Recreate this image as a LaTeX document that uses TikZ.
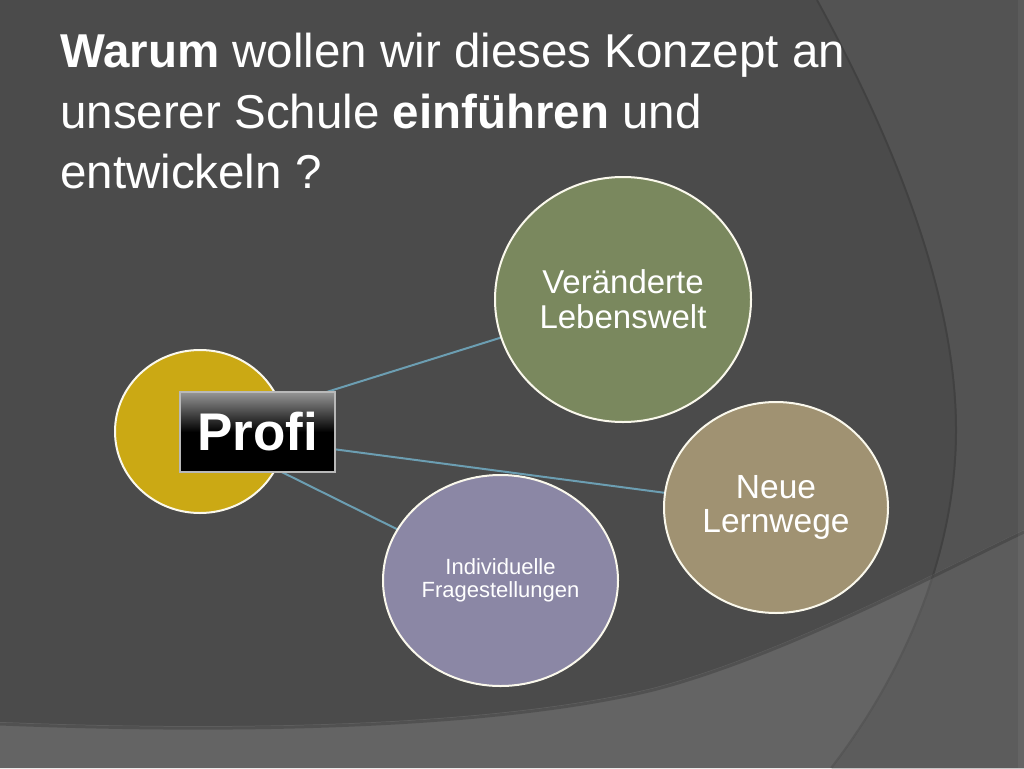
\documentclass[tikz,border=0pt]{standalone}
\usepackage{fontspec}
\setmainfont{Liberation Sans}
\usetikzlibrary{shapes.geometric}
\pgfdeclarelayer{back}
\pgfdeclarelayer{edges}
\pgfsetlayers{back,edges,main}
\definecolor{bgmain}{RGB}{75,75,75}
\definecolor{bgright}{RGB}{83,83,83}
\definecolor{bgbottom}{RGB}{100,100,100}
\definecolor{bgbr}{RGB}{92,92,92}
\definecolor{cyellow}{RGB}{203,169,20}
\definecolor{cgreen}{RGB}{122,136,94}
\definecolor{ctan}{RGB}{160,146,114}
\definecolor{cpurple}{RGB}{139,135,165}
\definecolor{cconn}{RGB}{108,158,178}
\definecolor{crim}{RGB}{250,248,236}
\definecolor{profitop}{RGB}{150,150,150}
\begin{document}
\begin{tikzpicture}[x=1pt,y=-1pt,
  bub/.style={ellipse, draw=crim, line width=2pt, inner sep=0pt, align=center, text=white},
  conn/.style={draw=cconn, line width=2pt},
  titletext/.style={anchor=base west, inner sep=0pt, text=white, font=\fontsize{47.5}{61}\selectfont},
  profibox/.style={rectangle, draw=gray!55!white, line width=2pt, minimum width=155pt, minimum height=80pt,
     inner sep=0pt, top color=profitop, bottom color=black, middle color=black, text=white,
     font=\bfseries\fontsize{53}{53}\selectfont},
  edgeshade/.style={draw=black, opacity=0.18, line width=3pt}
]
\useasboundingbox (0,0) rectangle (1024,768);
\def\arcpath{(818,0) .. controls (900,150) and (957,300) .. (957,430) .. controls (957,560) and (900,680) .. (832,768)}
\def\botpath{(0,722) .. controls (250,732) and (500,725) .. (653,688) .. controls (780,655) and (930,575) .. (1024,530)}
\begin{pgfonlayer}{back}
  \fill[bgmain] (0,0) rectangle (1024,768);
  \fill[bgright] \arcpath -- (1024,768) -- (1024,0) -- cycle;
  \fill[bgbottom] \botpath -- (1024,768) -- (0,768) -- cycle;
  \begin{scope}
    \clip \arcpath -- (1024,768) -- (1024,0) -- cycle;
    \fill[bgbr] \botpath -- (1024,768) -- (0,768) -- cycle;
  \end{scope}
  \begin{scope}[yshift=-2pt]
    \draw[edgeshade] \botpath;
  \end{scope}
  \begin{scope}[xshift=-1pt]
    \draw[edgeshade, opacity=0.12, line width=2pt] \arcpath;
  \end{scope}
  \fill[white, opacity=0.05] (1018,0) rectangle (1024,768);
\end{pgfonlayer}

\node[titletext] (t1) at (60,67) {\textbf{Warum} wollen wir dieses Konzept an};
\node[titletext] (t2) at (60,128) {unserer Schule \textbf{einführen} und};
\node[titletext] (t3) at (60,188) {entwickeln ?};

\node[bub, fill=cyellow, minimum width=170pt, minimum height=163pt] (gelb) at (200,431.5) {};
\node[bub, fill=cgreen, minimum width=256pt, minimum height=245pt,
      font=\fontsize{33}{35}\selectfont] (welt) at (623,299.5) {Veränderte\\Lebenswelt};
\node[bub, fill=ctan, minimum width=224pt, minimum height=211pt,
      font=\fontsize{33.5}{34}\selectfont] (lern) at (776,507.5) {Neue\\Lernwege};
\node[bub, fill=cpurple, minimum width=235pt, minimum height=211pt,
      font=\fontsize{22}{23}\selectfont] (frag) at (500.5,580.5) {Individuelle\\Fragestellungen};
\node[profibox] (profi) at (257.5,432) {Prof\kern0pt i};

\begin{pgfonlayer}{edges}
  \draw[conn] (gelb.center) -- (welt.center);
  \draw[conn] (gelb.center) -- (lern.center);
  \draw[conn] (gelb.center) -- (frag.center);
\end{pgfonlayer}
\end{tikzpicture}
\end{document}
